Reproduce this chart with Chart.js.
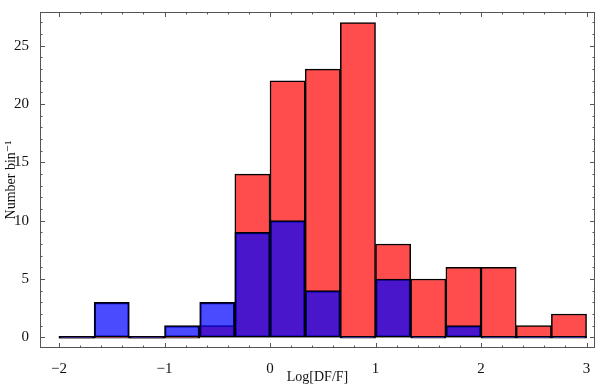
<!DOCTYPE html>
<html>
<head>
<meta charset="utf-8">
<script src="https://cdn.jsdelivr.net/npm/chart.js@4.4.0/dist/chart.umd.min.js"></script>
<style>
    html, body { margin: 0; padding: 0; background: #fff; }
    #wrap { width: 600px; height: 387px; position: relative; }
</style>
</head>
<body>
<div id="wrap"><canvas id="histChart"></canvas></div>
<script>
// histogram bins (width 1/3, from -2 to 3)
const binStarts = [-2, -5/3, -4/3, -1, -2/3, -1/3, 0, 1/3, 2/3, 1, 4/3, 5/3, 2, 7/3, 8/3];
const binWidth = 1/3;
const redCounts  = [0, 0, 0, 0, 1, 14, 22, 23, 27, 8, 5, 6, 6, 1, 2];
const blueCounts = [0, 3, 0, 1, 3, 9, 10, 4, 0, 5, 0, 1, 0, 0, 0];
const xTickLabels = [-2, -1, 0, 1, 2, 3];
const yTickLabels = [0, 5, 10, 15, 20, 25];

const serif = "'Liberation Serif', 'DejaVu Serif', serif";

function toPoints(counts) {
    return counts.map((v, i) => ({ x: binStarts[i] + binWidth / 2, y: v }));
}

// Mathematica style frame with inward ticks on all four sides
const framePlugin = {
    id: 'frame',
    afterDatasetsDraw(chart) {
        const { ctx, chartArea: a, scales: { x, y } } = chart;
        ctx.save();
        ctx.strokeStyle = '#555';
        ctx.lineWidth = 1;
        ctx.strokeRect(a.left + 0.5, a.top + 0.5, a.right - a.left - 1, a.bottom - a.top - 1);

        ctx.beginPath();
        for (let i = -10; i <= 15; i++) {
            const v = i / 5;
            const px = Math.round(x.getPixelForValue(v)) + 0.5;
            if (px < a.left + 2 || px > a.right - 2) continue;
            const len = (i % 5 === 0) ? 5 : 2.5;
            ctx.moveTo(px, a.bottom); ctx.lineTo(px, a.bottom - len);
            ctx.moveTo(px, a.top); ctx.lineTo(px, a.top + len);
        }
        for (let v = 0; v <= 27; v++) {
            const py = Math.round(y.getPixelForValue(v)) + 0.5;
            const len = (v % 5 === 0) ? 5 : 2.5;
            ctx.moveTo(a.left, py); ctx.lineTo(a.left + len, py);
            ctx.moveTo(a.right, py); ctx.lineTo(a.right - len, py);
        }
        ctx.stroke();
        ctx.restore();
    }
};

const ctx = document.getElementById('histChart').getContext('2d');

new Chart(ctx, {
    type: 'bar',
    data: {
        datasets: [{
            label: 'blue',
            data: toPoints(blueCounts),
            backgroundColor: 'rgba(0, 0, 255, 0.71)',
            borderColor: '#000',
            borderWidth: 1.5,
            borderSkipped: false,
            minBarLength: 2,
            grouped: false,
            barPercentage: 1,
            categoryPercentage: 1
        }, {
            label: 'red',
            data: toPoints(redCounts),
            backgroundColor: 'rgb(255, 77, 77)',
            borderColor: '#000',
            borderWidth: 1.5,
            borderSkipped: false,
            minBarLength: 2,
            grouped: false,
            barPercentage: 1,
            categoryPercentage: 1
        }]
    },
    options: {
        responsive: true,
        maintainAspectRatio: false,
        animation: false,
        layout: { padding: { top: 3, right: 5, left: 0, bottom: 0 } },
        plugins: {
            legend: { display: false },
            tooltip: { enabled: false }
        },
        scales: {
            x: {
                type: 'linear',
                min: -2.18,
                max: 3.08,
                offset: false,
                grid: { display: false },
                border: { display: false },
                afterBuildTicks: function(scale) {
                    scale.ticks = xTickLabels.map(v => ({ value: v }));
                },
                afterFit: function(scale) { scale.height = 39; },
                ticks: {
                    autoSkip: false,
                    maxRotation: 0,
                    padding: 4,
                    color: '#111',
                    font: { size: 15, family: serif },
                    callback: function(value) {
                        return String(value).replace('-', '\u2212');
                    }
                },
                title: {
                    display: true,
                    text: 'Log[DF/F]',
                    color: '#111',
                    padding: { top: 0, bottom: 1 },
                    font: { size: 14, family: serif }
                }
            },
            y: {
                min: -0.92,
                max: 27.9,
                grid: { display: false },
                border: { display: false },
                afterBuildTicks: function(scale) {
                    scale.ticks = yTickLabels.map(v => ({ value: v }));
                },
                afterFit: function(scale) { scale.width = 40; },
                ticks: {
                    autoSkip: false,
                    padding: 3,
                    color: '#111',
                    font: { size: 15, family: serif }
                },
                title: {
                    display: true,
                    text: 'Number bin\u207B\u00B9',
                    color: '#111',
                    padding: { top: 3, bottom: 0 },
                    font: { size: 14, family: serif }
                }
            }
        }
    },
    plugins: [framePlugin]
});
</script>
</body>
</html>
